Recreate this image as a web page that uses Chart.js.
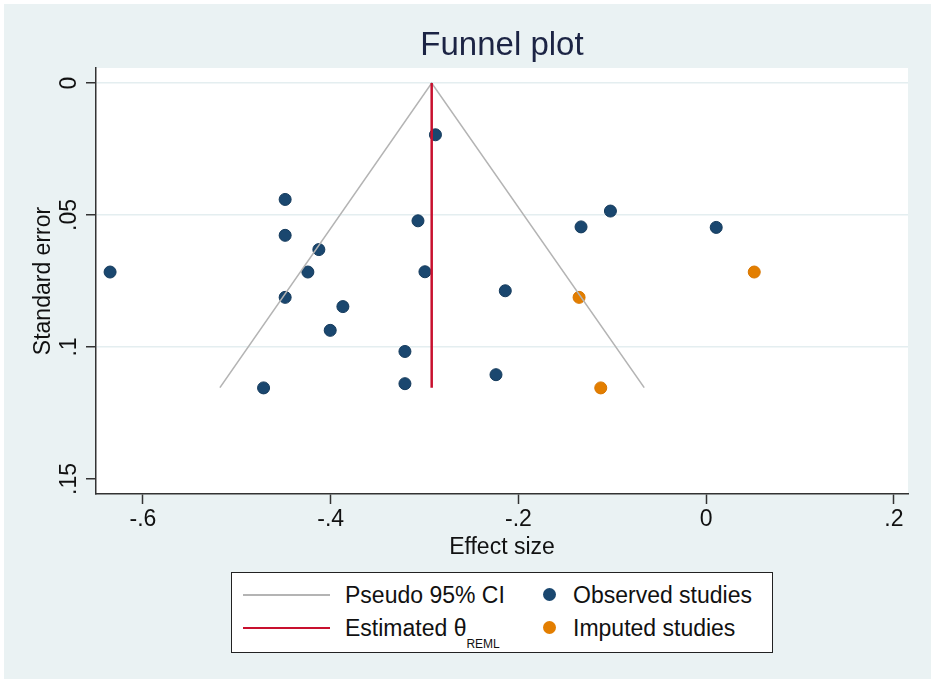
<!DOCTYPE html>
<html lang="en">
<head>
<meta charset="UTF-8">
<title>Funnel plot</title>
<script src="https://cdn.jsdelivr.net/npm/chart.js"></script>
<style>
  html, body { margin: 0; padding: 0; background: #fff; }
  #wrap { position: relative; width: 935px; height: 683px; font-family: "Liberation Sans", Arial, sans-serif; color: #111; }
  #funnel { position: absolute; left: 0; top: 0; }
  #legend { position: absolute; left: 231px; top: 572px; width: 540px; height: 79px; border: 1.5px solid #222; background: #fff; }
  .item { position: absolute; height: 26px; line-height: 26px; font-size: 23px; white-space: nowrap; }
  .swatch { position: absolute; width: 87px; height: 2px; left: 11px; }
  .dot { position: absolute; width: 13px; height: 13px; border-radius: 50%; left: 311px; }
  .sub { font-size: 12px; position: relative; top: 12px; }
</style>
</head>
<body>
<div id="wrap">
  <canvas id="funnel" width="935" height="683"></canvas>
  <div id="legend">
    <div class="swatch" style="top:21px;background:#b4b4b4"></div>
    <div class="item" style="left:113px;top:9px">Pseudo 95% CI</div>
    <div class="swatch" style="top:54px;background:#c8102e"></div>
    <div class="item" style="left:113px;top:42px">Estimated θ<span class="sub">REML</span></div>
    <div class="dot" style="top:15px;background:#1a476f"></div>
    <div class="item" style="left:341px;top:9px">Observed studies</div>
    <div class="dot" style="top:48px;background:#e37e00"></div>
    <div class="item" style="left:341px;top:42px">Imputed studies</div>
  </div>
</div>
<script>
  // effect sizes and standard errors
  const observedX = [-0.635, -0.4485, -0.4485, -0.4126, -0.4243, -0.4485, -0.387, -0.4005, -0.3209, -0.3209,
                     -0.4715, -0.307, -0.2996, -0.2884, -0.2239, -0.214, -0.1333, -0.102, 0.0107];
  const observedSE = [0.0716, 0.0441, 0.0577, 0.0631, 0.0716, 0.0812, 0.0847, 0.0937, 0.1017, 0.1139,
                      0.1155, 0.0522, 0.0715, 0.0196, 0.1105, 0.0787, 0.0545, 0.0485, 0.0547];
  const imputedX = [0.0512, -0.1354, -0.1123];
  const imputedSE = [0.0716, 0.0812, 0.1155];

  // pseudo 95% CI funnel and the REML estimate
  const funnelX = [-0.518, -0.2924, -0.066];
  const funnelSE = [0.1154, 0, 0.1154];
  const thetaX = [-0.2924, -0.2924];
  const thetaSE = [0, 0.1154];

  const xTicks = [-0.6, -0.4, -0.2, 0, 0.2];
  const yTicks = [0, 0.05, 0.1, 0.15];

  const FONT = "'Liberation Sans', Arial, sans-serif";
  Chart.defaults.font.family = FONT;
  Chart.defaults.color = '#111';

  const pts = (xs, ys) => xs.map((x, i) => ({ x: x, y: ys[i] }));
  // Stata style labels: -.6, .05
  const fmt = v => String(Math.round(v * 1000) / 1000).replace(/^(-?)0\./, '$1.');

  const background = {
    id: 'background',
    beforeDraw(chart) {
      const { ctx, chartArea: a } = chart;
      ctx.save();
      ctx.fillStyle = '#eaf2f3';
      ctx.fillRect(4, 4, chart.width - 8, chart.height - 8);
      ctx.fillStyle = '#fff';
      ctx.fillRect(a.left, a.top, a.right - a.left, a.bottom - a.top);
      ctx.restore();
    }
  };

  const yTickLabels = {
    id: 'yTickLabels',
    afterDraw(chart) {
      const { ctx, scales: { y } } = chart;
      ctx.save();
      ctx.font = '23px ' + FONT;
      ctx.fillStyle = '#111';
      ctx.textAlign = 'center';
      ctx.textBaseline = 'middle';
      y.ticks.forEach(t => {
        ctx.save();
        ctx.translate(y.right - 26, y.getPixelForValue(t.value));
        ctx.rotate(-Math.PI / 2);
        ctx.fillText(fmt(t.value), 0, 0);
        ctx.restore();
      });
      ctx.restore();
    }
  };

  new Chart(document.getElementById('funnel'), {
    type: 'scatter',
    data: {
      datasets: [
        { data: pts(thetaX, thetaSE), showLine: true, borderColor: '#c8102e', borderWidth: 2.5, pointRadius: 0 },
        { data: pts(funnelX, funnelSE), showLine: true, borderColor: '#b4b4b4', borderWidth: 1.6, pointRadius: 0 },
        { data: pts(observedX, observedSE), backgroundColor: '#1a476f', borderColor: '#143a5c', borderWidth: 1, pointRadius: 6 },
        { data: pts(imputedX, imputedSE), backgroundColor: '#e37e00', borderColor: '#d87600', borderWidth: 1, pointRadius: 6 }
      ]
    },
    options: {
      responsive: false,
      animation: false,
      layout: { padding: { left: 0, right: 27, top: 0, bottom: 0 } },
      plugins: {
        legend: { display: false },
        tooltip: { enabled: false },
        title: {
          display: true, text: 'Funnel plot', fullSize: false, color: '#1c2444',
          font: { size: 33, weight: 'normal' }, padding: { top: 25.7, bottom: 2.7 }
        }
      },
      scales: {
        x: {
          min: -0.65, max: 0.215,
          afterBuildTicks: s => { s.ticks = xTicks.map(v => ({ value: v })); },
          afterFit: s => { s.height = 189; },
          ticks: { font: { size: 23 }, color: '#111', padding: 2, callback: v => fmt(v), maxRotation: 0 },
          grid: { drawOnChartArea: false, tickLength: 10, tickColor: '#333', tickWidth: 1.5 },
          border: { color: '#333', width: 1.5 },
          title: { display: true, text: 'Effect size', font: { size: 23 }, color: '#111', padding: { top: 0, bottom: 122 } }
        },
        y: {
          reverse: true, min: -0.0057, max: 0.1557,
          afterBuildTicks: s => { s.ticks = yTicks.map(v => ({ value: v })); },
          afterFit: s => { s.width = 96; },
          ticks: { display: false },
          grid: {
            color: c => (c.tick && c.tick.value < 0.14 ? '#e4eef0' : 'rgba(0,0,0,0)'),
            lineWidth: 1.5, tickLength: 10, tickColor: '#333', tickWidth: 1.5
          },
          border: { color: '#333', width: 1.5 },
          title: { display: true, text: 'Standard error', font: { size: 23 }, color: '#111', padding: { top: 30, bottom: 0 } }
        }
      }
    },
    plugins: [background, yTickLabels]
  });
</script>
</body>
</html>
